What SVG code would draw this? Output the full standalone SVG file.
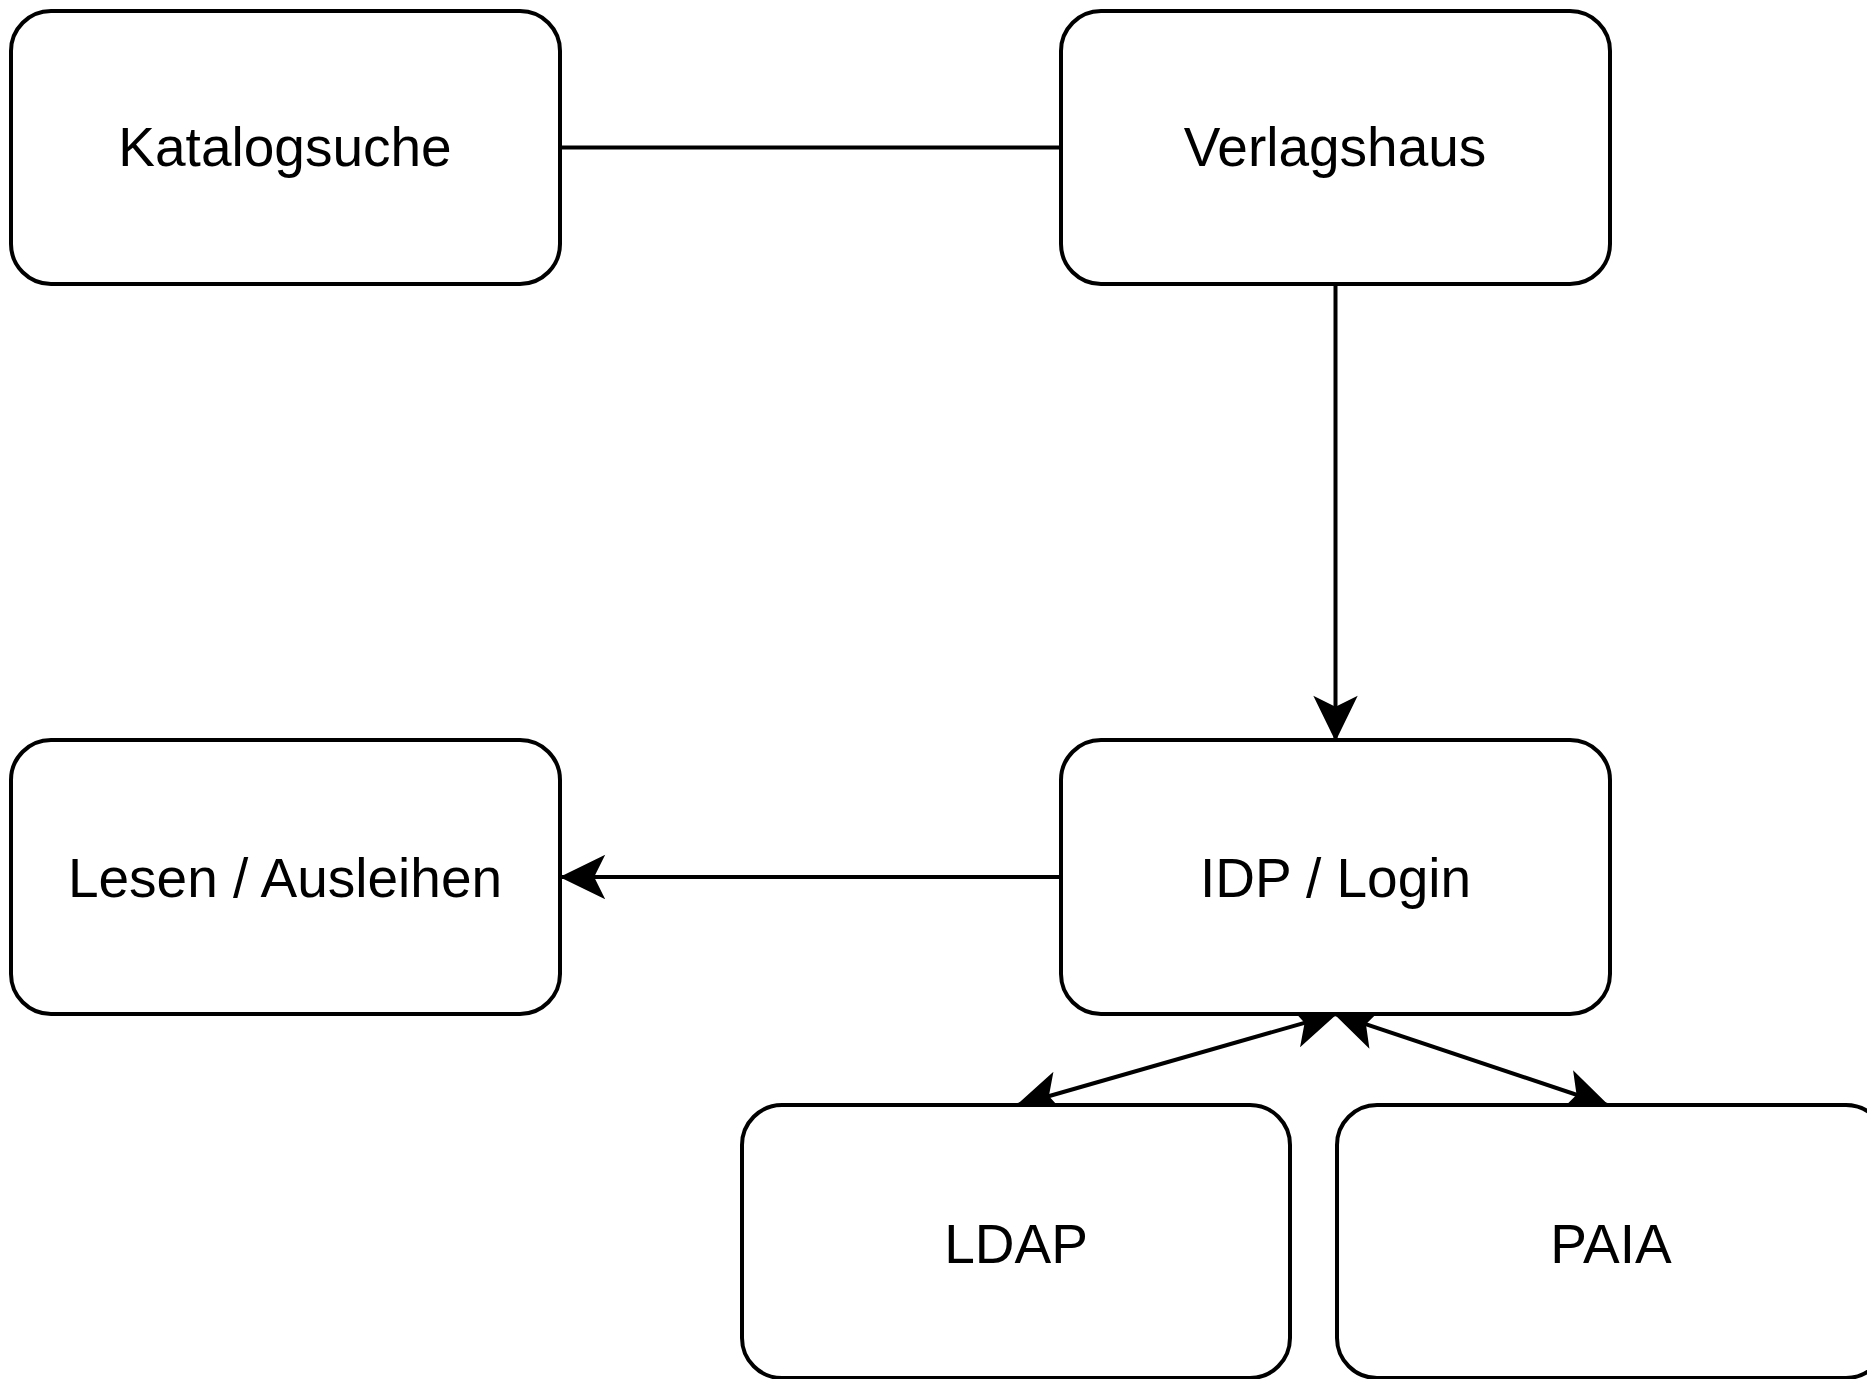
<svg xmlns="http://www.w3.org/2000/svg" width="1867" height="1379" viewBox="0 0 1867 1379">
  <style>
    .box { fill: #ffffff; stroke: #000000; stroke-width: 4; }
    .lbl { font-family: "Liberation Sans", Arial, sans-serif; font-size: 55px; fill: #000000; text-anchor: middle; }
    .edge { fill: none; stroke: #000000; stroke-width: 4; }
  </style>
  <defs>
    <marker id="arrowEnd" markerUnits="userSpaceOnUse" viewBox="-46 -26 50 52" refX="0" refY="0" markerWidth="50" markerHeight="52" orient="auto">
      <path d="M0,0 L-41,-20 L-31,0 L-41,20 Z" fill="#000000" stroke="#000000" stroke-width="2" stroke-linejoin="miter"/>
    </marker>
    <marker id="arrowStart" markerUnits="userSpaceOnUse" viewBox="-46 -26 50 52" refX="0" refY="0" markerWidth="50" markerHeight="52" orient="auto-start-reverse">
      <path d="M0,0 L-41,-20 L-31,0 L-41,20 Z" fill="#000000" stroke="#000000" stroke-width="2" stroke-linejoin="miter"/>
    </marker>
  </defs>
  <rect width="1867" height="1379" fill="#ffffff"/>

  <g id="connectors">
    <line class="edge" x1="560" y1="147.5" x2="1061" y2="147.5"/>
    <line class="edge" x1="1335.5" y1="284" x2="1335.5" y2="739" marker-end="url(#arrowEnd)"/>
    <line class="edge" x1="1061" y1="877" x2="562" y2="877" marker-end="url(#arrowEnd)"/>
    <line class="edge" x1="1335.5" y1="1014" x2="1018" y2="1105" marker-start="url(#arrowStart)" marker-end="url(#arrowEnd)"/>
    <line class="edge" x1="1335.5" y1="1014" x2="1607" y2="1105" marker-start="url(#arrowStart)" marker-end="url(#arrowEnd)"/>
  </g>

  <g id="katalogsuche">
    <rect class="box" x="11" y="11" width="549" height="273" rx="40" ry="40"/>
    <text class="lbl" x="285" y="166">Katalogsuche</text>
  </g>
  <g id="verlagshaus">
    <rect class="box" x="1061" y="11" width="549" height="273" rx="40" ry="40"/>
    <text class="lbl" x="1335" y="166">Verlagshaus</text>
  </g>
  <g id="lesen-ausleihen">
    <rect class="box" x="11" y="740" width="549" height="274" rx="40" ry="40"/>
    <text class="lbl" x="285" y="897">Lesen / Ausleihen</text>
  </g>
  <g id="idp-login">
    <rect class="box" x="1061" y="740" width="549" height="274" rx="40" ry="40"/>
    <text class="lbl" x="1335.5" y="897">IDP / Login</text>
  </g>
  <g id="ldap">
    <rect class="box" x="742" y="1105" width="548" height="273" rx="40" ry="40"/>
    <text class="lbl" x="1016" y="1263">LDAP</text>
  </g>
  <g id="paia">
    <rect class="box" x="1337" y="1105" width="549" height="273" rx="40" ry="40"/>
    <text class="lbl" x="1611" y="1263">PAIA</text>
  </g>
</svg>
